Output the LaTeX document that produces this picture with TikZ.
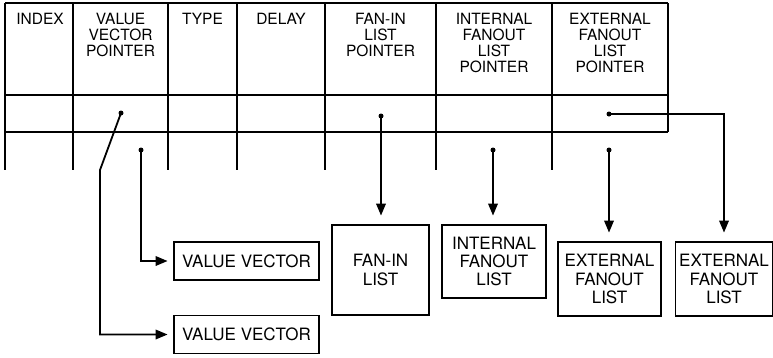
\documentclass[tikz,border=0pt]{standalone}
\usepackage{fontspec}
\setmainfont{TeX Gyre Heros}
\usetikzlibrary{arrows, positioning}

\begin{document}
\begin{tikzpicture}[x=1pt, y=-1pt, >=triangle 45, line width=1.1pt,
    head/.style={anchor=north, inner sep=0pt, align=center, font=\fontsize{15.5}{16}\selectfont},
    listbox/.style={draw, align=center, inner sep=0pt, font=\fontsize{17}{18.3}\selectfont},
    ptr/.style={circle, fill, inner sep=0pt, minimum size=5pt},
    link/.style={->, line width=1.8pt}]
    \useasboundingbox (0,0) rectangle (773,357);
    % table
    \foreach \x in {5,73,168,237,325,436,552}
        \draw (\x,3) -- (\x,170);
    \draw (668,3) -- (668,132);
    \foreach \y in {3,95,132}
        \draw (5,\y) -- (668,\y);
    \node[head] (index) at (40,13)    {INDEX};
    \node[head] (vvptr) at (120.5,13) {VALUE\\VECTOR\\POINTER};
    \node[head] (type)  at (202.5,13) {TYPE};
    \node[head] (delay) at (281,13)   {DELAY};
    \node[head] (fiptr) at (380.5,13) {FAN-IN\\LIST\\POINTER};
    \node[head] (ifptr) at (494,13)   {INTERNAL\\FANOUT\\LIST\\POINTER};
    \node[head] (efptr) at (610,13)   {EXTERNAL\\FANOUT\\LIST\\POINTER};
    % pointers
    \node[ptr] (vvp1) at (121,113) {};
    \node[ptr] (vvp2) at (141,150) {};
    \node[ptr] (fip)  at (381,116) {};
    \node[ptr] (ifp)  at (493,150) {};
    \node[ptr] (efp1) at (609,150) {};
    \node[ptr] (efp2) at (609,114) {};
    % lists
    \node[listbox, minimum width=145pt, minimum height=38pt] (vv1) at (246.5,261)   {VALUE VECTOR};
    \node[listbox, minimum width=145pt, minimum height=38pt] (vv2) at (246.5,334.5) {VALUE VECTOR};
    \node[listbox, minimum width=97pt, minimum height=90pt]  (fil)  at (380.5,270)  {FAN-IN\\LIST};
    \node[listbox, minimum width=104pt, minimum height=73pt] (ifl)  at (494,261.5)  {INTERNAL\\FANOUT\\LIST};
    \node[listbox, minimum width=103pt, minimum height=74pt] (efl1) at (609.5,279)  {EXTERNAL\\FANOUT\\LIST};
    \node[listbox, minimum width=97pt, minimum height=74pt]  (efl2) at (724,279)    {EXTERNAL\\FANOUT\\LIST};
    % links
    \coordinate (bend) at (100,170);
    \draw[link, shorten >=6pt] (vvp1.center) -- (bend) |- (vv2);
    \draw[link, shorten >=6pt] (vvp2.center) |- (vv1);
    \draw[link, shorten >=9pt] (fip.center) -- (fip |- fil.north);
    \draw[link, shorten >=9pt] (ifp.center) -- (ifp |- ifl.north);
    \draw[link, shorten >=9pt] (efp1.center) -- (efp1 |- efl1.north);
    \draw[link, shorten >=9pt] (efp2.center) -| (efl2);
\end{tikzpicture}
\end{document}
